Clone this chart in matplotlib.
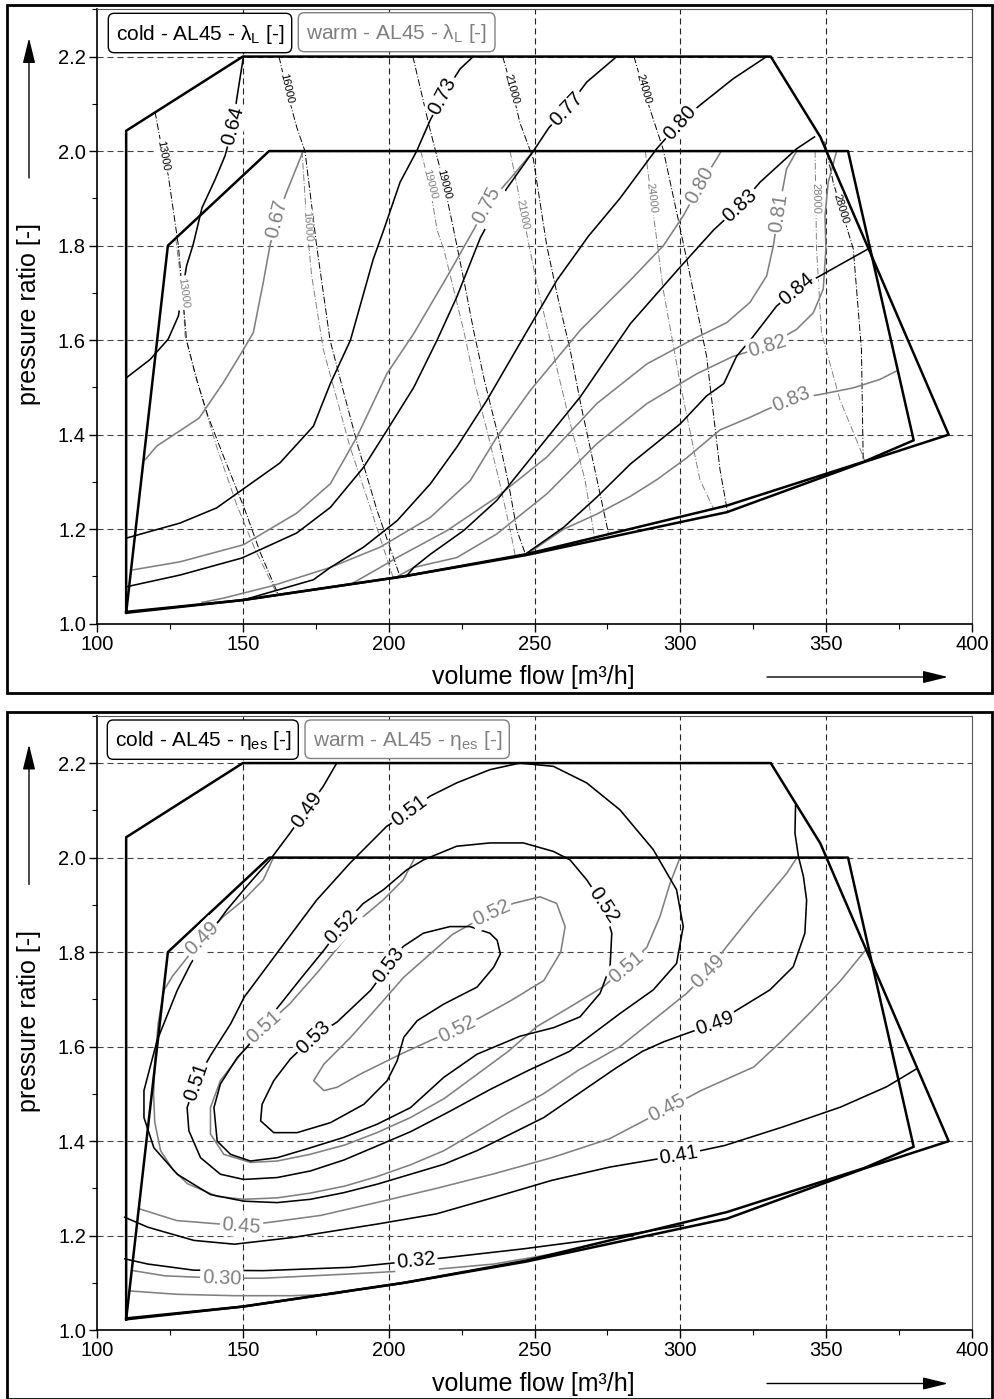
import numpy as np
import matplotlib
matplotlib.use("Agg")
import matplotlib.pyplot as plt
from matplotlib.patches import Rectangle, FancyBboxPatch
from matplotlib.ticker import MultipleLocator, FormatStrFormatter

plt.rcParams['font.family'] = ['Liberation Sans', 'DejaVu Sans']
plt.rcParams['mathtext.fontset'] = 'custom'
plt.rcParams['mathtext.rm'] = 'Liberation Sans'
plt.rcParams['mathtext.it'] = 'Liberation Sans:italic'

GRAY = '#808080'

# ---------------- operating envelopes (same for both maps) ----------------
cold_env = [(110, 1.025), (110, 2.043), (150, 2.2), (331, 2.2), (348, 2.03), (392, 1.40),
            (363, 1.342), (316, 1.236), (247, 1.145), (205, 1.10), (150, 1.05), (110, 1.025)]
warm_env = [(110, 1.023), (124.3, 1.80), (159, 2.0), (357.5, 2.0), (380, 1.388), (363, 1.343),
            (316, 1.25), (247, 1.147), (205, 1.10), (150, 1.05), (110, 1.023)]

# ---------------- speed lines (top map) ----------------
n13_cold = [(119.9, 2.083), (122.7, 1.99), (124.4, 1.95), (127.9, 1.80), (130.7, 1.60), (134, 1.52),
            (138, 1.44), (143, 1.36), (150.7, 1.241), (156, 1.15), (162.2, 1.061)]
n16_cold = [(162.4, 2.2), (165, 2.13), (168.5, 2.05), (171.3, 2.0), (175.3, 1.80), (179.9, 1.60),
            (184.3, 1.496), (189.5, 1.375), (196, 1.24), (203.9, 1.10)]
n19_cold = [(208.3, 2.2), (214, 2.05), (219, 1.93), (222.3, 1.833), (226, 1.72), (229.1, 1.621),
            (233, 1.51), (237.1, 1.409), (241, 1.30), (244, 1.197), (246.9, 1.147)]
n21_cold = [(239.1, 2.2), (242.2, 2.132), (245, 2.06), (249.6, 1.983), (254.2, 1.80), (258, 1.69),
            (262.2, 1.58), (266, 1.46), (270.2, 1.34), (275.3, 1.193)]
n24_cold = [(284.1, 2.2), (287.3, 2.132), (294.1, 2.004), (302.2, 1.771), (309, 1.566),
            (313.6, 1.326), (316.2, 1.236)]
n28_cold = [(349.5, 2.02), (352.4, 1.934), (359.3, 1.793), (362.1, 1.58), (362.7, 1.345)]

n13_warm = [(127, 1.815), (128.3, 1.75), (129.4, 1.70), (130.2, 1.609), (134.2, 1.517), (138.2, 1.432),
            (141, 1.375), (148, 1.25), (154, 1.16), (161.6, 1.064)]
n16_warm = [(170.3, 2.0), (172, 1.84), (173.6, 1.736), (177.6, 1.58), (186.7, 1.375), (194, 1.24),
            (201.5, 1.098)]
n19_warm = [(211, 2.0), (214, 1.93), (216.6, 1.833), (219, 1.79), (225.7, 1.621), (229.5, 1.51),
            (233.7, 1.409), (238, 1.30), (241.7, 1.197), (243.4, 1.144)]
n21_warm = [(241.6, 2.0), (246.1, 1.863), (250.7, 1.722), (257.5, 1.545), (262, 1.43), (267.3, 1.305),
            (270.5, 1.186)]
n24_warm = [(288, 2.0), (290.7, 1.87), (294.1, 1.708), (299.9, 1.51), (306.7, 1.305), (311.4, 1.243)]
n28_warm = [(346.2, 2.0), (346.7, 1.793), (348.4, 1.616), (354.7, 1.474), (363.3, 1.345)]

speed_cold_labels = [("13000", 122.7, 1.99), ("16000", 165, 2.132), ("19000", 218.8, 1.93),
                     ("21000", 242.2, 2.132), ("24000", 287.3, 2.132), ("28000", 355.0, 1.877)]
speed_warm_labels = [("13000", 129.4, 1.70), ("16000", 172, 1.84), ("19000", 214, 1.93),
                     ("21000", 246, 1.866), ("24000", 290, 1.90), ("28000", 346.4, 1.90)]

# ---------------- lambda_L contours (top map) ----------------
lam_c064 = [(110, 1.52), (118.2, 1.559), (124.4, 1.602), (127.9, 1.651), (130.7, 1.757), (133, 1.803),
            (136, 1.88), (140.5, 1.94), (143.9, 1.99), (146.7, 2.054), (147.9, 2.11), (150.2, 2.2)]
lam_c073 = [(110, 1.181), (128.5, 1.213), (141, 1.245), (149, 1.28), (162.7, 1.34), (174.2, 1.418),
            (180, 1.508), (186.9, 1.60), (194.7, 1.771), (198.3, 1.833), (203.9, 1.934), (209.6, 2.0),
            (214.2, 2.065), (218.6, 2.117), (224.5, 2.174), (229, 2.2)]
lam_c077 = [(110, 1.078), (128.5, 1.103), (149.7, 1.139), (168.5, 1.192), (180, 1.246), (191.4, 1.331),
            (199.4, 1.409), (208.6, 1.50), (216.6, 1.60), (223.4, 1.692), (231.4, 1.816), (240.4, 1.92),
            (249.6, 2.0), (255, 2.05), (261, 2.089), (267.9, 2.146), (278.2, 2.2)]
lam_c080 = [(150, 1.05), (174.2, 1.093), (180, 1.119), (191.4, 1.162), (202.9, 1.218), (214.3, 1.296),
            (223.4, 1.374), (233.7, 1.473), (246.3, 1.607), (257.7, 1.727), (268.5, 1.82), (279.3, 1.90),
            (291.9, 2.005), (299.9, 2.061), (306.7, 2.097), (318.1, 2.153), (329.6, 2.2)]
lam_c083 = [(206, 1.10), (208.6, 1.119), (214.3, 1.147), (225.7, 1.197), (237.1, 1.261), (250.9, 1.367),
            (265.7, 1.48), (282.9, 1.635), (300, 1.755), (311.4, 1.833), (320.5, 1.885), (327.3, 1.934),
            (339.9, 2.005), (346, 2.03)]
lam_c084 = [(247.3, 1.149), (260, 1.204), (271.4, 1.268), (282.9, 1.338), (300, 1.423), (309, 1.482),
            (314.9, 1.508), (319.3, 1.566), (324, 1.60), (333, 1.672), (339.9, 1.708), (347.9, 1.736),
            (364.4, 1.793)]

lam_w067 = [(116.5, 1.347), (120.5, 1.376), (135, 1.435), (143.3, 1.51), (150.2, 1.58), (153.6, 1.616),
            (157, 1.722), (159.3, 1.80), (161.6, 1.856), (165, 1.913), (170.7, 2.0)]
lam_w075 = [(112.4, 1.114), (128.5, 1.131), (150.2, 1.167), (168.5, 1.234), (180, 1.296), (189.1, 1.395),
            (199.4, 1.529), (208.6, 1.614), (220, 1.734), (229.1, 1.833), (233.6, 1.885), (241.6, 1.941),
            (249.6, 2.0)]
lam_w080 = [(136, 1.045), (143.3, 1.054), (160, 1.08), (180, 1.119), (197.1, 1.162), (214.3, 1.225),
            (228, 1.303), (237.1, 1.395), (248.6, 1.494), (265.7, 1.621), (282.9, 1.727), (294.2, 1.80),
            (301, 1.863), (306.7, 1.927), (312.5, 1.984), (314, 2.0)]
lam_w081 = [(188, 1.087), (197.1, 1.119), (202.9, 1.14), (220, 1.197), (237.1, 1.268), (254.3, 1.353),
            (271.4, 1.466), (288.6, 1.55), (304.4, 1.602), (315.9, 1.637), (323.9, 1.68), (329.6, 1.736),
            (331.9, 1.80), (333.6, 1.87), (336.4, 1.962), (339.9, 2.0)]
lam_w082 = [(203, 1.10), (208.6, 1.119), (223.4, 1.14), (237.1, 1.19), (254.3, 1.275), (271.4, 1.381),
            (288.6, 1.466), (305.7, 1.529), (318.2, 1.566), (330, 1.588), (339.9, 1.623), (345.6, 1.658),
            (349, 1.708), (349.9, 1.793), (349.6, 1.863), (350.7, 1.934), (353.6, 2.0)]
lam_w083 = [(247.4, 1.147), (260, 1.20), (271.4, 1.232), (283, 1.27), (292, 1.305), (302, 1.35),
            (313.6, 1.41), (324, 1.437), (329.6, 1.453), (338.2, 1.475), (347.9, 1.485), (359.3, 1.499),
            (368.5, 1.517), (374.2, 1.535)]

lam_cold_labels = [("0.64", 146.7, 2.054), ("0.73", 218.6, 2.117), ("0.77", 261, 2.089),
                   ("0.80", 299.9, 2.061), ("0.83", 320.5, 1.885), ("0.84", 339.9, 1.708)]
lam_warm_labels = [("0.67", 161.6, 1.856), ("0.75", 233.6, 1.885), ("0.80", 306.7, 1.927),
                   ("0.81", 333.6, 1.87), ("0.82", 330, 1.588), ("0.83", 338.2, 1.475)]

# ---------------- eta_es contours (bottom map) ----------------
eta_c049 = [(182.2, 2.2), (177.6, 2.151), (171.9, 2.101), (166.2, 2.052), (159.3, 1.995), (151.3, 1.939),
            (144.5, 1.889), (137.5, 1.83), (132.1, 1.775), (127.5, 1.719), (120.6, 1.613), (116.1, 1.507),
            (116.1, 1.45), (119.5, 1.386), (127.5, 1.33), (138.9, 1.287), (150.3, 1.273), (161.8, 1.27),
            (173.2, 1.277), (184.6, 1.291), (196.1, 1.309), (207.5, 1.33), (218.9, 1.351), (230.3, 1.38),
            (241.8, 1.415), (253.2, 1.45), (265, 1.50), (278, 1.555), (287, 1.59), (294.2, 1.61),
            (302.2, 1.628), (311.9, 1.649), (319.3, 1.677), (330.7, 1.72), (338.7, 1.769), (342.7, 1.84),
            (343.3, 1.91), (342.2, 1.96), (340.5, 2.002), (339.3, 2.052), (339.5, 2.11)]
eta_c051 = [(134.1, 1.528), (130.9, 1.471), (131.5, 1.422), (135.5, 1.365), (142.3, 1.33), (150.3, 1.319),
            (161.8, 1.323), (173.2, 1.337), (184.6, 1.36), (196.1, 1.39), (207.5, 1.42), (220, 1.46),
            (235, 1.51), (248, 1.55), (262, 1.59), (279.3, 1.67), (290.7, 1.72), (298.7, 1.776),
            (301, 1.854), (298.7, 1.932), (290.7, 2.017), (279.3, 2.101), (267.9, 2.158), (256.5, 2.193),
            (245, 2.2), (234.7, 2.186), (223.3, 2.158), (214.2, 2.13), (207.3, 2.098), (199.3, 2.066),
            (186.7, 1.988), (175.3, 1.91), (161.6, 1.797), (150.5, 1.705), (145.8, 1.648), (138.9, 1.581),
            (134.1, 1.528)]
eta_c052 = [(183.9, 1.854), (191.3, 1.903), (198.2, 1.932), (206.2, 1.974), (211.9, 1.995), (223.3, 2.024),
            (234.7, 2.031), (246.2, 2.031), (256.5, 2.013), (262.2, 1.995), (267.9, 1.953), (273.6, 1.90),
            (276.5, 1.84), (275.9, 1.769), (272.5, 1.713), (265.6, 1.663), (256.5, 1.64), (245, 1.622),
            (230.3, 1.584), (218.9, 1.535), (207.5, 1.471), (196.1, 1.436), (184.6, 1.408), (173.2, 1.386),
            (161.8, 1.365), (152.6, 1.358), (145.8, 1.372), (141.2, 1.40), (140.1, 1.471), (142.3, 1.521),
            (148.1, 1.577), (151.5, 1.599), (157, 1.645), (162.9, 1.69), (170, 1.745), (177.8, 1.804),
            (183.9, 1.854)]
eta_c053 = [(174.1, 1.62), (166.3, 1.574), (160.6, 1.528), (156.6, 1.478), (156.1, 1.443), (160.6, 1.418),
            (168.6, 1.418), (180, 1.439), (191.5, 1.478), (199.5, 1.528), (202.9, 1.57), (205.2, 1.62),
            (209.8, 1.655), (218.9, 1.69), (230.3, 1.726), (236, 1.768), (238.3, 1.796), (237.2, 1.825),
            (234.7, 1.84), (227.9, 1.854), (221, 1.854), (211.9, 1.84), (205, 1.812), (200.1, 1.772),
            (193.8, 1.719), (182.3, 1.652), (174.1, 1.62)]
eta_c041 = [(109.5, 1.239), (117.4, 1.218), (133.2, 1.19), (147.1, 1.182), (166.9, 1.196), (196.5, 1.225),
            (216.3, 1.246), (236.1, 1.281), (255.9, 1.317), (275.7, 1.345), (299.5, 1.37), (315.3, 1.391),
            (335.1, 1.43), (354.9, 1.472), (370.7, 1.515), (381, 1.553)]
eta_c032 = [(109.5, 1.151), (117.4, 1.14), (133.2, 1.127), (157, 1.126), (186.7, 1.133), (209.4, 1.147),
            (220.3, 1.154), (246, 1.172), (275.7, 1.196), (301, 1.222)]

eta_w049 = [(160.5, 2.0), (157, 1.953), (150.2, 1.91), (143.3, 1.875), (135.9, 1.829), (130.5, 1.785),
            (126, 1.75), (122.9, 1.719), (121, 1.65), (120, 1.58), (119.4, 1.50), (119.8, 1.44),
            (121.8, 1.38), (126, 1.34), (131, 1.31), (141.2, 1.283), (150.3, 1.277), (161.8, 1.28),
            (173, 1.29), (185, 1.305), (196, 1.325), (207.5, 1.35), (219, 1.38), (230, 1.42), (241, 1.46),
            (253, 1.50), (265, 1.55), (279.3, 1.6), (290.7, 1.656), (302.2, 1.713), (309.6, 1.759),
            (315.9, 1.812), (325, 1.882), (336.5, 1.967), (340, 2.0)]
eta_w051 = [(209, 2.0), (205, 1.953), (198.2, 1.911), (191.3, 1.875), (184.6, 1.825), (176, 1.76),
            (166, 1.69), (157.2, 1.641), (150.3, 1.592), (142.3, 1.528), (138.9, 1.471), (138.9, 1.415),
            (143.5, 1.372), (152.6, 1.355), (161.8, 1.358), (173, 1.372), (185, 1.392), (196, 1.418),
            (207.5, 1.45), (219, 1.49), (230, 1.54), (241, 1.59), (250.7, 1.642), (262.2, 1.684),
            (273.6, 1.727), (281.6, 1.769), (288.5, 1.81), (293, 1.875), (296.5, 1.946), (299.9, 2.0)]
eta_w052 = [(235.3, 1.882), (242.7, 1.903), (251.9, 1.917), (257.6, 1.903), (260.5, 1.854), (259, 1.80),
            (253.2, 1.74), (241.8, 1.697), (231.5, 1.662), (223.5, 1.637), (214.3, 1.613), (204.1, 1.584),
            (190.3, 1.542), (182.3, 1.514), (177.8, 1.507), (174.3, 1.528), (177.8, 1.563), (187, 1.62),
            (196.1, 1.683), (205.2, 1.747), (215.5, 1.803), (222, 1.838), (229, 1.862), (235.3, 1.882)]
eta_w045 = [(114.4, 1.257), (127.3, 1.232), (149.5, 1.221), (158.9, 1.228), (176.8, 1.243), (196.5, 1.271),
            (216.3, 1.30), (236.1, 1.331), (255.9, 1.365), (275.7, 1.405), (295.5, 1.469), (307.4, 1.508),
            (325.2, 1.557), (335.1, 1.614), (345, 1.675), (355, 1.74), (364, 1.808)]
eta_w030 = [(112.4, 1.126), (123.3, 1.115), (142.7, 1.11), (157, 1.11), (186.7, 1.119), (216.3, 1.129),
            (236.1, 1.14), (255.9, 1.161), (262, 1.166)]
eta_w_low = [(111.5, 1.083), (127.3, 1.076), (147.1, 1.073), (166.9, 1.073), (180.7, 1.076), (186, 1.082)]

eta_cold_labels = [("0.49", 171.9, 2.101), ("0.51", 207.3, 2.098), ("0.52", 183.9, 1.854),
                   ("0.53", 200.1, 1.772), ("0.53", 174.1, 1.62), ("0.52", 273.6, 1.90),
                   ("0.51", 134.2, 1.525), ("0.49", 311.9, 1.649), ("0.41", 299.5, 1.37),
                   ("0.32", 209.4, 1.147)]
eta_warm_labels = [("0.49", 135.9, 1.829), ("0.51", 157.2, 1.641), ("0.52", 235.3, 1.882),
                   ("0.52", 223.5, 1.637), ("0.51", 281.6, 1.769), ("0.49", 309.6, 1.759),
                   ("0.45", 295.5, 1.469), ("0.45", 149.5, 1.221), ("0.30", 142.7, 1.11)]

legend_top = ["cold - AL45 - $\\mathrm{\\lambda_L}$ [-]", "warm - AL45 - $\\mathrm{\\lambda_L}$ [-]"]
legend_bottom = ["cold - AL45 - $\\mathrm{\\eta_{es}}$ [-]", "warm - AL45 - $\\mathrm{\\eta_{es}}$ [-]"]

# ---------------- figure ----------------
W, H = 994, 1399
fig = plt.figure(figsize=(W / 100, H / 100), dpi=100)


def px_rect(x0, y0, x1, y1):
    return [x0 / W, 1 - y1 / H, (x1 - x0) / W, (y1 - y0) / H]


def setup(ax):
    ax.set_xlim(100, 400)
    ax.set_ylim(1.0, 2.3)
    ax.xaxis.set_major_locator(MultipleLocator(50))
    ax.xaxis.set_minor_locator(MultipleLocator(25))
    ax.yaxis.set_major_locator(MultipleLocator(0.2))
    ax.yaxis.set_minor_locator(MultipleLocator(0.1))
    ax.yaxis.set_major_formatter(FormatStrFormatter('%.1f'))
    ax.tick_params(which='major', direction='out', length=6, width=1, labelsize=14.5, pad=2)
    ax.tick_params(which='minor', direction='out', length=3.5, width=0.8)
    for s in ['left', 'bottom']:
        ax.spines[s].set_linewidth(1.2)
    for s in ['top', 'right']:
        ax.spines[s].set_linewidth(0.8)
        ax.spines[s].set_color('#555555')
    for v in [150, 200, 250, 300, 350]:
        ax.axvline(v, color='#222222', lw=0.8, ls=(0, (5.5, 3.5)), zorder=0.5)
    for v in [1.2, 1.4, 1.6, 1.8, 2.0, 2.2]:
        ax.axhline(v, color='#444444', lw=0.8, ls=(0, (5.5, 3.5)), zorder=0.5)


def draw(ax, curve, color, lw, ls='-', z=3):
    xy = np.asarray(curve, float)
    ax.plot(xy[:, 0], xy[:, 1], color=color, lw=lw, ls=ls, zorder=z, solid_joinstyle='round')


def label_on(ax, curves, text, x, y, color, size, pad):
    tr = ax.transData
    p = tr.transform((x, y))
    best = None
    for c in curves:
        d = tr.transform(np.asarray(c, float))
        for a, b in zip(d[:-1], d[1:]):
            ab = b - a
            t = np.clip(np.dot(p - a, ab) / max(np.dot(ab, ab), 1e-9), 0, 1)
            dist = np.hypot(*(a + t * ab - p))
            if best is None or dist < best[0]:
                best = (dist, ab)
    ang = np.degrees(np.arctan2(best[1][1], best[1][0]))
    if ang > 90:
        ang -= 180
    if ang <= -90:
        ang += 180
    ax.text(x, y, text, rotation=ang, rotation_mode='anchor', ha='center', va='center',
            fontsize=size, color=color, zorder=8,
            bbox=dict(boxstyle='square,pad=%s' % pad, fc='white', ec='none'))


ax1 = fig.add_axes(px_rect(97, 9.3, 972, 623.7))
ax2 = fig.add_axes(px_rect(97, 715.8, 972, 1330.2))
for ax in (ax1, ax2):
    setup(ax)
    draw(ax, cold_env, 'black', 1.8, z=4)
    draw(ax, warm_env, 'black', 1.8, z=4)

# top map
speed_cold = [n13_cold, n16_cold, n19_cold, n21_cold, n24_cold, n28_cold]
speed_warm = [n13_warm, n16_warm, n19_warm, n21_warm, n24_warm, n28_warm]
dashdot = (0, (7, 2, 1, 2))
for c in speed_warm:
    draw(ax1, c, GRAY, 0.7, dashdot, z=2)
for c in speed_cold:
    draw(ax1, c, 'black', 0.7, dashdot, z=2)
lam_cold = [lam_c064, lam_c073, lam_c077, lam_c080, lam_c083, lam_c084]
lam_warm = [lam_w067, lam_w075, lam_w080, lam_w081, lam_w082, lam_w083]
for c in lam_warm:
    draw(ax1, c, GRAY, 1.15, z=3)
for c in lam_cold:
    draw(ax1, c, 'black', 1.15, z=3.5)
for t, x, y in speed_warm_labels:
    label_on(ax1, speed_warm, t, x, y, GRAY, 8, 0.15)
for t, x, y in speed_cold_labels:
    label_on(ax1, speed_cold, t, x, y, 'black', 8, 0.15)
for t, x, y in lam_warm_labels:
    label_on(ax1, lam_warm, t, x, y, GRAY, 14.5, 0.1)
for t, x, y in lam_cold_labels:
    label_on(ax1, lam_cold, t, x, y, 'black', 14.5, 0.1)

# bottom map
eta_cold = [eta_c049, eta_c051, eta_c052, eta_c053, eta_c041, eta_c032]
eta_warm = [eta_w049, eta_w051, eta_w052, eta_w045, eta_w030, eta_w_low]
for c in eta_warm:
    draw(ax2, c, GRAY, 1.15, z=3)
for c in eta_cold:
    draw(ax2, c, 'black', 1.15, z=3.5)
for t, x, y in eta_warm_labels:
    label_on(ax2, eta_warm, t, x, y, GRAY, 14.5, 0.1)
for t, x, y in eta_cold_labels:
    label_on(ax2, eta_cold, t, x, y, 'black', 14.5, 0.1)

# ---------------- overlay in pixel units: frames, legends, axis titles ----------------
ov = fig.add_axes([0, 0, 1, 1], zorder=10)
ov.set_xlim(0, W)
ov.set_ylim(H, 0)
ov.axis('off')

for dy, legend in [(0, legend_top), (706.5, legend_bottom)]:
    ov.add_patch(Rectangle((7, 5 + dy), 985, 687.5, fill=False, lw=2.0, ec='black'))
    boxes = [(108.3, 13.3 + dy, 183.4, 39.4, 'black'), (298.3, 12.7 + dy, 196.7, 39.0, GRAY)]
    if dy:
        boxes = [(107.3, 720, 191, 39.3, 'black'), (305, 720, 204.3, 38.5, GRAY)]
    for (bx, by, bw, bh, col), txt in zip(boxes, legend):
        ov.add_patch(FancyBboxPatch((bx, by), bw, bh, boxstyle='round,pad=0,rounding_size=6',
                                    fc='white', ec=col, lw=1.0))
        ov.text(bx + 8, by + bh / 2 + 1, txt, ha='left', va='center', fontsize=15, color=col)
    ov.annotate('', xy=(29, 38 + dy), xytext=(29, 178 + dy),
                arrowprops=dict(arrowstyle='-|>,head_length=1.1,head_width=0.27', mutation_scale=14,
                                lw=1.0, color='black', shrinkA=0, shrinkB=0))
    ov.text(29, 314 + dy, 'pressure ratio [-]', rotation=90, ha='center', va='center', fontsize=18)
    ov.annotate('', xy=(948, 677 + dy), xytext=(767, 677 + dy),
                arrowprops=dict(arrowstyle='-|>,head_length=1.1,head_width=0.27', mutation_scale=14,
                                lw=1.0, color='black', shrinkA=0, shrinkB=0))
    ov.text(533, 677 + dy, 'volume flow [m³/h]', ha='center', va='center', fontsize=18)

fig.savefig('out.png', dpi=100)
